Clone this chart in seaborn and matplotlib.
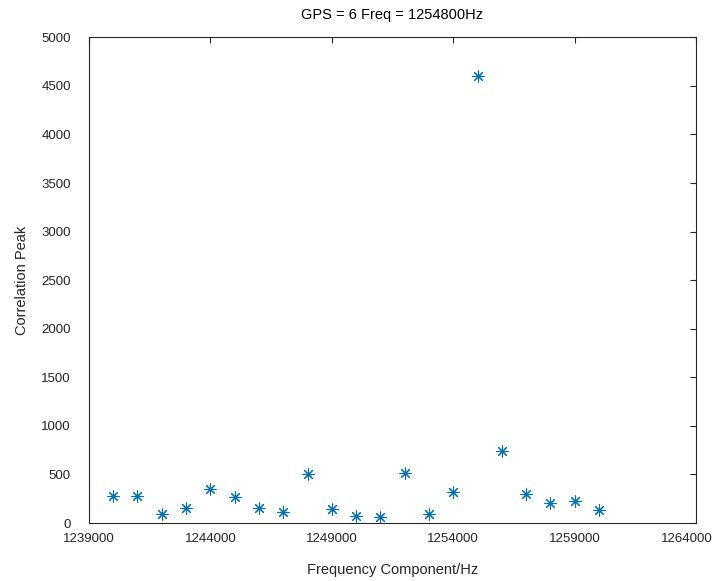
import numpy as np
import pandas as pd
import seaborn as sns
import matplotlib.transforms as mtransforms
from matplotlib import pyplot as plt

# frequency bins (Hz) and correlation peak values
freq_hz = [1240000, 1241000, 1242000, 1243000, 1244000, 1245000, 1246000,
           1247000, 1248000, 1249000, 1250000, 1251000, 1252000, 1253000,
           1254000, 1255000, 1256000, 1257000, 1258000, 1259000, 1260000]
corr_peak = [274, 281, 88, 150, 353, 263, 150, 113, 507, 144, 68, 58, 518, 88,
             322, 4603, 737, 294, 202, 226, 130]

x_ticks = [1239000, 1244000, 1249000, 1254000, 1259000, 1264000]
y_ticks = list(range(0, 5001, 500))

df = pd.DataFrame({"freq": freq_hz, "peak": corr_peak})

sns.set_style("white")
plt.rcParams["font.family"] = ["Liberation Sans", "DejaVu Sans"]

fig = plt.figure(figsize=(7.17, 5.81), dpi=100)
ax = fig.add_axes([0.124, 0.0998, 0.847, 0.836])
sns.scatterplot(
    data=df, x="freq", y="peak", ax=ax,
    marker=(8, 2, 0), s=64, color="#0072BD", linewidth=0.8,
    edgecolor="#0072BD", legend=False,
)
ax.set_xlim(1239000, 1264000)
ax.set_ylim(0, 5000)
ax.set_xticks(x_ticks)
ax.set_xticklabels([str(v) for v in x_ticks])
ax.set_yticks(y_ticks)
ax.tick_params(direction="in", top=True, right=True, length=4, width=0.8,
               labelsize=9.5, colors="#262626")
ax.tick_params(axis="x", pad=7)
ax.tick_params(axis="y", pad=13)
for sp in ax.spines.values():
    sp.set_color("#262626")
    sp.set_linewidth(0.8)

# matlab nudges the last x label inward so it stays in the figure
last = ax.get_xticklabels()[-1]
last.set_transform(last.get_transform() + mtransforms.ScaledTranslation(-9 / 100, 0, fig.dpi_scale_trans))

ax.set_xlabel("Frequency Component/Hz", fontsize=10.5, color="#262626", labelpad=13)
ax.set_ylabel("Correlation Peak", fontsize=10.5, color="#262626", labelpad=9)
ax.set_title("GPS = 6 Freq = 1254800Hz", fontsize=10.5, color="#000000", pad=13)

fig.savefig("out.png", dpi=100)
